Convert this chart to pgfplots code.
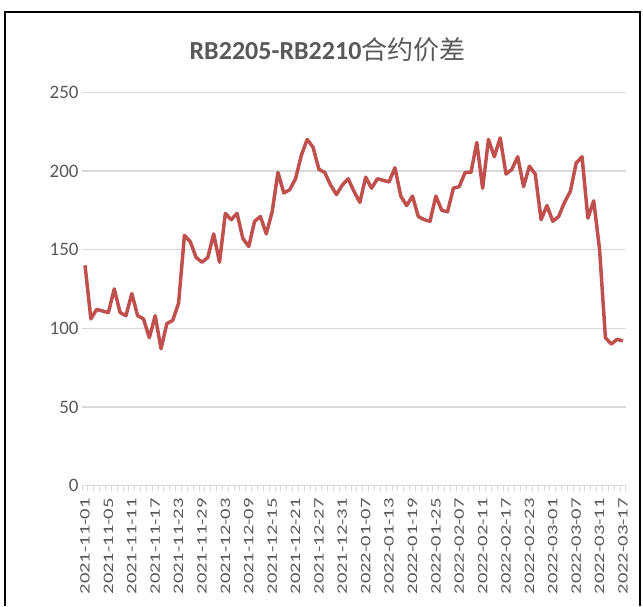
\documentclass[border=0pt]{standalone}
\usepackage{fontspec}
\setmainfont{Carlito}
\newfontfamily\cjk{Noto Sans CJK SC}
\usepackage{graphicx}
\usepackage{pgfplots}
\pgfplotsset{compat=1.18}
\usepackage{pgfplotstable}
\definecolor{txt}{HTML}{595959}
\definecolor{gridc}{HTML}{D9D9D9}
\definecolor{ser}{HTML}{C0504D}
\newcommand\dl[1]{\scalebox{1.42}[1]{#1}}
\pgfplotstableread{
i v
0 140
1 106
2 112
3 111
4 110
5 125
6 110
7 108
8 122
9 108
10 106
11 94
12 108
13 87
14 103
15 105
16 116
17 159
18 155
19 145
20 142
21 145
22 160
23 142
24 173
25 169
26 173
27 157
28 152
29 168
30 171
31 160
32 174
33 199
34 186
35 188
36 195
37 210
38 220
39 215
40 201
41 199
42 191
43 185
44 191
45 195
46 187
47 180
48 196
49 189
50 195
51 194
52 193
53 202
54 184
55 178
56 184
57 171
58 169
59 168
60 184
61 175
62 174
63 189
64 190
65 199
66 199
67 218
68 189
69 220
70 209
71 221
72 198
73 201
74 209
75 190
76 203
77 198
78 169
79 178
80 168
81 171
82 180
83 187
84 205
85 209
86 170
87 181
88 150
89 94
90 90
91 93
92 92
}\spread
\begin{document}
\begin{tikzpicture}
\path[use as bounding box] (0pt,0pt) rectangle (643pt,606pt);
\draw[black,line width=2pt] (5pt,0pt) -- (5pt,594pt) -- (639.5pt,594pt) -- (639.5pt,0pt);
\node[text=txt, font=\fontsize{26}{30}\selectfont, inner sep=0pt] at (327.5pt,556pt) {\textbf{RB2205-RB2210}{\cjk 合约价差}};
\begin{axis}[
  at={(82.1pt,120.3pt)}, anchor=south west,
  scale only axis, width=543.8pt, height=393.5pt,
  xmin=-0.5, xmax=92.5, ymin=0, ymax=250,
  axis line style={draw=none},
  ymajorgrids, grid style={gridc, line width=1.3pt},
  ytick={0,50,...,250},
  /pgf/number format/assume math mode=true,
  yticklabel style={font=\fontsize{19}{22}\selectfont, text=txt},
  ytick style={draw=none},
  xtick={0,4,...,92},
  xticklabels={\dl{2021-11-01},\dl{2021-11-05},\dl{2021-11-11},\dl{2021-11-17},\dl{2021-11-23},\dl{2021-11-29},\dl{2021-12-03},\dl{2021-12-09},\dl{2021-12-15},\dl{2021-12-21},\dl{2021-12-27},\dl{2021-12-31},\dl{2022-01-07},\dl{2022-01-13},\dl{2022-01-19},\dl{2022-01-25},\dl{2022-02-07},\dl{2022-02-11},\dl{2022-02-17},\dl{2022-02-23},\dl{2022-03-01},\dl{2022-03-07},\dl{2022-03-11},\dl{2022-03-17}},
  xticklabel style={rotate=90, anchor=east, font=\fontsize{14.5}{16}\selectfont, text=txt},
  xticklabel shift=9pt,
  minor xtick={-0.5,0.5,...,92.5},
  xtick pos=bottom, tick align=outside,
  major tick length=0pt, minor tick length=5pt,
  xtick style={gridc, line width=1pt},
  minor tick style={gridc, line width=1pt},
  clip=false,
]
\addplot[ser, line width=3.5pt, line join=round, no marks] table[x=i,y=v] {\spread};
\end{axis}
\end{tikzpicture}
\end{document}
